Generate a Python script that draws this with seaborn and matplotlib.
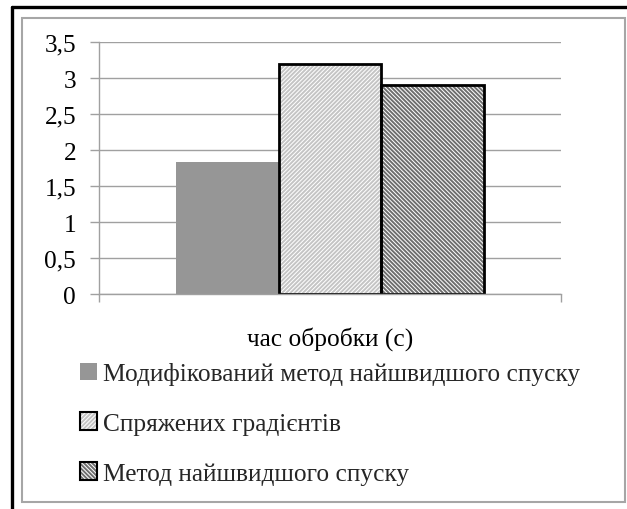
import matplotlib
matplotlib.use("Agg")
import matplotlib.pyplot as plt
import matplotlib.patches as mpatches
from matplotlib.lines import Line2D
from matplotlib.legend_handler import HandlerTuple
from matplotlib.ticker import FuncFormatter
import seaborn as sns
import pandas as pd

# Data
categories = ["час обробки (с)"]
methods = [
    "Модифікований метод найшвидшого спуску",
    "Спряжених градієнтів",
    "Метод найшвидшого спуску",
]
values = [1.83, 3.2, 2.9]

# Styling per series
fill_colors = ["#969696", "white", "white"]
hatch_colors = ["#969696", "#c4c4c4", "#6e6e6e"]
hatches = [None, "////////", "\\\\\\\\\\\\\\\\"]
outlined = [False, True, True]

FS = 18.3

sns.set_theme(style="white")
plt.rcParams["font.family"] = ["Liberation Serif", "DejaVu Serif"]
plt.rcParams["hatch.linewidth"] = 1.4

df = pd.DataFrame({
    "category": categories * len(methods),
    "method": methods,
    "value": values,
})

fig = plt.figure(figsize=(6.27, 5.10), dpi=100)
ax = fig.add_axes([99 / 627, 1 - 295 / 510, (561 - 99) / 627, (295 - 43) / 510])

sns.barplot(data=df, x="category", y="value", hue="method", hue_order=methods,
            palette=fill_colors, width=2 / 3, legend=False, ax=ax,
            saturation=1, linewidth=0)

# Apply hatch and outlines to the bars
for cont, fc, hc, h, out in zip(ax.containers, fill_colors, hatch_colors, hatches, outlined):
    for bar in cont:
        bar.set_facecolor(fc)
        bar.set_edgecolor(hc)
        bar.set_linewidth(0)
        if h:
            bar.set_hatch(h)
        if out:
            ax.add_patch(mpatches.Rectangle(bar.get_xy(), bar.get_width(), bar.get_height(),
                                            fill=False, edgecolor="black", linewidth=2.0,
                                            zorder=bar.get_zorder() + 0.1))

ax.set_xlim(-0.5, 0.5)
ax.set_ylim(0, 3.5)
ax.set_yticks([0, 0.5, 1, 1.5, 2, 2.5, 3, 3.5])
ax.yaxis.set_major_formatter(FuncFormatter(lambda v, p: f"{v:g}".replace(".", ",")))
ax.yaxis.grid(True, color="#a0a0a0", linewidth=1.0)
ax.set_axisbelow(True)
ax.set_xlabel("")
ax.set_ylabel("")

for side in ["top", "right"]:
    ax.spines[side].set_visible(False)
for side in ["left", "bottom"]:
    ax.spines[side].set_color("#a0a0a0")
    ax.spines[side].set_linewidth(1.0)

ax.tick_params(axis="y", which="both", left=True, length=6.5, width=1.0, color="#a0a0a0",
               direction="out", pad=10, labelsize=FS, labelcolor="black")
ax.set_xticks([0])
ax.set_xticklabels(categories)
ax.tick_params(axis="x", which="major", length=0, pad=23, labelsize=FS, labelcolor="black")
ax.set_xticks([-0.5, 0.5], minor=True)
ax.tick_params(axis="x", which="minor", bottom=True, length=6, width=1.0, color="#a0a0a0",
               direction="out")

# Legend below the plot
handles = []
for fc, hc, h, out in zip(fill_colors, hatch_colors, hatches, outlined):
    body = mpatches.Patch(facecolor=fc, edgecolor=hc, hatch=h, linewidth=0)
    if out:
        frame = mpatches.Patch(facecolor="none", edgecolor="black", linewidth=1.5)
        handles.append((body, frame))
    else:
        handles.append(body)

fig.legend(handles, methods, loc="upper left", bbox_to_anchor=(80 / 627, 1 - 363 / 510),
           frameon=False, fontsize=FS, handlelength=0.66, handleheight=0.66,
           handletextpad=0.23, labelspacing=1.08, borderpad=0, borderaxespad=0,
           handler_map={tuple: HandlerTuple(ndivide=1, pad=0)})

# Chart border
fig.add_artist(mpatches.Rectangle((22 / 627, 1 - 503 / 510), (625 - 22) / 627, (503 - 19) / 510,
                                  transform=fig.transFigure, fill=False,
                                  edgecolor="#a6a6a6", linewidth=1.5))
fig.add_artist(Line2D([12 / 627, 12 / 627], [0, 1 - 8 / 510], transform=fig.transFigure,
                      color="black", linewidth=2.4))
fig.add_artist(Line2D([12 / 627, 1], [1 - 8 / 510, 1 - 8 / 510], transform=fig.transFigure,
                      color="black", linewidth=2.4))

fig.savefig("out.png", dpi=100, facecolor="white")
